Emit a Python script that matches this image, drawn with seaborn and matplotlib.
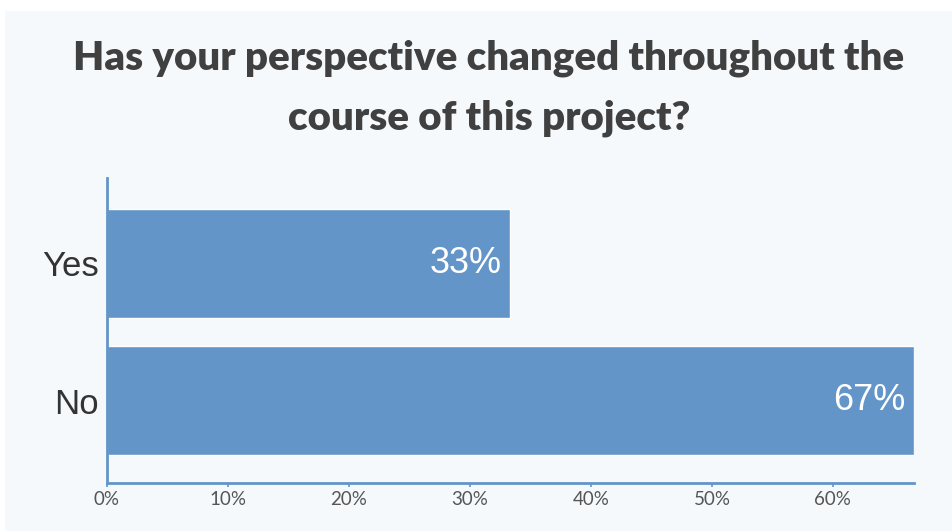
import matplotlib.pyplot as plt
import matplotlib.patches as mpatches
import seaborn as sns
import pandas as pd

# Datos del gráfico
respuestas = ["Yes", "No"]
porcentajes = [33.3, 66.7]
etiquetas = ["33%", "67%"]
ticks_x = [0, 10, 20, 30, 40, 50, 60]

df = pd.DataFrame({"respuesta": respuestas, "porcentaje": porcentajes})

sns.set_theme(style="white")
plt.rcParams['font.family'] = ['Lato', 'DejaVu Sans']

fondo = "#f6f9fc"
azul = "#6395c8"

fig = plt.figure(figsize=(9.53, 5.31), dpi=100, facecolor="white")
# panel de fondo claro
fig.patches.append(mpatches.Rectangle((5 / 953, 0), 1, 1 - 11 / 531,
                                      transform=fig.transFigure,
                                      facecolor=fondo, edgecolor="none", zorder=-10))

ax = fig.add_axes([107 / 953, 1 - 483 / 531, (914 - 107) / 953, (483 - 178) / 531])
ax.set_facecolor(fondo)

sns.barplot(data=df, x="porcentaje", y="respuesta", orient="h",
            color=azul, saturation=1, width=0.8, ax=ax)

for barra, txt in zip(ax.patches, etiquetas):
    x = barra.get_x() + barra.get_width()
    y = barra.get_y() + barra.get_height() / 2
    ax.text(x - 0.7, y, txt, ha="right", va="center", color="white",
            fontsize=26, family=["Liberation Sans", "DejaVu Sans"])

ax.set_xlim(0, 66.7)
ax.set_ylim(1.602, -0.624)
ax.set_xticks(ticks_x)
ax.set_xticklabels([f"{t}%" for t in ticks_x], fontsize=13.5, color="#555555")
ax.tick_params(axis="x", length=3, width=1.2, color=azul, pad=3, bottom=True)
ax.tick_params(axis="y", length=0, labelsize=25, labelcolor="#333333", pad=6)
for lbl in ax.get_yticklabels():
    lbl.set_family(["Liberation Sans", "DejaVu Sans"])
ax.set_xlabel("")
ax.set_ylabel("")

for lado in ["top", "right"]:
    ax.spines[lado].set_visible(False)
for lado in ["left", "bottom"]:
    ax.spines[lado].set_color(azul)
    ax.spines[lado].set_linewidth(2)

fig.text(489 / 953, 1 - 58 / 531, "Has your perspective changed throughout the",
         ha="center", va="center", fontsize=29, fontweight="heavy", color="#404040")
fig.text(489 / 953, 1 - 118 / 531, "course of this project?",
         ha="center", va="center", fontsize=29, fontweight="heavy", color="#404040")

fig.savefig("out.png", dpi=100, facecolor=fig.get_facecolor())
